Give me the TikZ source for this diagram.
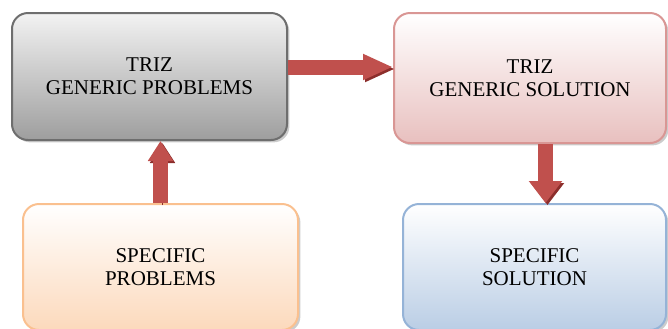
\documentclass[tikz,border=0pt]{standalone}
\usepackage{fontspec}
\setmainfont{Liberation Serif}
\usepackage{xcolor}
\usetikzlibrary{arrows.meta,shadows}

\definecolor{probedge}{HTML}{6E6E6E}
\definecolor{soledge}{HTML}{D99694}
\definecolor{specedge}{HTML}{FAC08F}
\definecolor{specsoledge}{HTML}{95B3D7}
\definecolor{arrowred}{HTML}{C0504D}
\definecolor{arrowdark}{HTML}{8C2E2C}

\tikzset{
	box/.style = {
			rectangle,
			rounded corners = 8pt,
			line width      = 1pt,
			align           = center,
			font            = \fontsize{10.5}{11.5}\selectfont,
			drop shadow     = {shadow xshift=1.2pt, shadow yshift=-1.2pt, fill=black!40},
		},
	blockarrow/.style = {
			line width = 7.5pt,
			draw       = arrowred,
			preaction  = {draw=arrowdark, transform canvas={xshift=1pt, yshift=-1pt}},
		}
}

\begin{document}
\begin{tikzpicture}[x=0.5pt, y=-0.5pt]
	\clip (0,0) rectangle (668,328);

	\node[box, draw=probedge, top color=black!5, bottom color=black!38,
		minimum width=137.5pt, minimum height=63.5pt] (genprob) at (149.5,76.5) {TRIZ\\GENERIC PROBLEMS};
	\node[box, draw=soledge, top color=white, bottom color=soledge!60,
		minimum width=136pt, minimum height=65pt] (gensol) at (530,78) {TRIZ\\GENERIC SOLUTION};
	\node[box, draw=specedge, top color=white, bottom color=specedge!60,
		minimum width=137.5pt, minimum height=63pt] (specprob) at (160.5,267) {SPECIFIC\\PROBLEMS};
	\node[box, draw=specsoledge, top color=white, bottom color=specsoledge!65,
		minimum width=131.5pt, minimum height=63pt] (specsol) at (534.5,267) {SPECIFIC\\SOLUTION};

	\draw[blockarrow, -{Triangle[width=12pt, length=15pt]}] ([yshift=4.75pt]genprob.east) -- ([yshift=5.5pt]gensol.west);
	\draw[blockarrow, -{Triangle[width=12pt, length=10pt]}] (specprob.north) -- (specprob.north |- genprob.south);
	\coordinate (solfoot) at ([xshift=7.75pt]gensol.south);
	\draw[blockarrow, -{Triangle[width=16pt, length=11pt]}] (solfoot) -- (solfoot |- specsol.north);

\end{tikzpicture}
\end{document}
